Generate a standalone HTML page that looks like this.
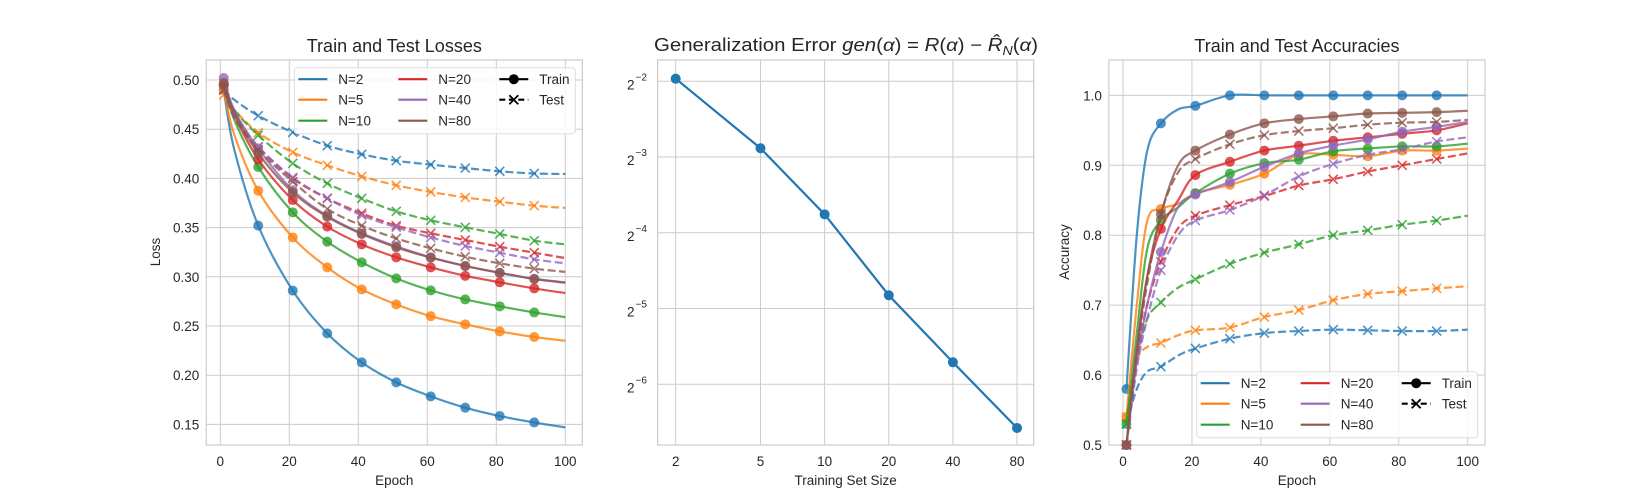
<!DOCTYPE html>
<html><head><meta charset="utf-8">
<style>
html,body{margin:0;padding:0;background:#fff;}
svg{display:block;font-family:"Liberation Sans","DejaVu Sans",sans-serif;}
</style></head>
<body>
<svg id="fig" xmlns="http://www.w3.org/2000/svg" width="1650" height="500" viewBox="0 0 1650 500"></svg>
<script>
const lossEpochs=[1,4,11,21,31,41,51,61,71,81,91,100];
const lossTrainN2=[0.49,0.43,0.352,0.286,0.2425,0.213,0.1927,0.1785,0.167,0.1585,0.152,0.147];
const lossTrainN5=[0.49,0.445,0.3875,0.340,0.3096,0.2872,0.272,0.260,0.2517,0.2445,0.2388,0.235];
const lossTrainN10=[0.495,0.46,0.4116,0.3655,0.3357,0.3147,0.2984,0.2862,0.277,0.270,0.2638,0.259];
const lossTrainN20=[0.495,0.465,0.4194,0.378,0.351,0.333,0.3198,0.3096,0.301,0.2944,0.2882,0.2835];
const lossTrainN40=[0.502,0.47,0.4305,0.388,0.362,0.3442,0.331,0.3198,0.311,0.304,0.298,0.2943];
const lossTrainN80=[0.497,0.468,0.4255,0.3858,0.361,0.3435,0.330,0.3195,0.311,0.304,0.2977,0.294];
const lossTestN2=[0.49,0.48,0.4637,0.4468,0.4333,0.4245,0.418,0.414,0.4105,0.4072,0.405,0.4045];
const lossTestN5=[0.485,0.47,0.4465,0.4265,0.4133,0.402,0.393,0.3862,0.3807,0.3763,0.3723,0.370];
const lossTestN10=[0.49,0.47,0.4438,0.4153,0.395,0.3797,0.3665,0.3574,0.3503,0.3435,0.3367,0.333];
const lossTestN20=[0.49,0.465,0.432,0.40,0.3797,0.3645,0.352,0.3442,0.3374,0.3306,0.3245,0.319];
const lossTestN40=[0.49,0.465,0.4322,0.401,0.3797,0.3624,0.3503,0.340,0.3313,0.3245,0.3177,0.3137];
const lossTestN80=[0.49,0.462,0.429,0.3967,0.369,0.352,0.339,0.329,0.3204,0.3137,0.3083,0.305];

const genSizes=[2,5,10,20,40,80];
const genError=[0.2561,0.1355,0.0740,0.0353,0.01911,0.01048];

const accEpochs=[1,4,7,11,16,21,31,41,51,61,71,81,91,100];
const accTrainN2=[0.58,0.80,0.92,0.96,0.98,0.985,1,1,1,1,1,1,1,1];
const accTrainN5=[0.54,0.70,0.82,0.8375,0.845,0.86,0.872,0.888,0.915,0.915,0.913,0.921,0.921,0.924];
const accTrainN10=[0.53,0.66,0.78,0.821,0.84,0.86,0.888,0.903,0.908,0.92,0.924,0.927,0.927,0.931];
const accTrainN20=[0.50,0.63,0.74,0.809,0.85,0.886,0.905,0.921,0.928,0.935,0.94,0.945,0.95,0.96];
const accTrainN40=[0.50,0.62,0.70,0.776,0.84,0.858,0.876,0.898,0.917,0.928,0.937,0.948,0.955,0.962];
const accTrainN80=[0.50,0.64,0.74,0.83,0.90,0.921,0.944,0.96,0.966,0.97,0.974,0.975,0.976,0.978];
const accTestN2=[0.53,0.58,0.605,0.612,0.628,0.638,0.652,0.66,0.663,0.665,0.664,0.663,0.663,0.665];
const accTestN5=[0.54,0.62,0.64,0.646,0.657,0.664,0.668,0.683,0.693,0.707,0.716,0.72,0.724,0.727];
const accTestN10=[0.53,0.62,0.68,0.704,0.725,0.737,0.759,0.775,0.787,0.80,0.807,0.815,0.821,0.828];
const accTestN20=[0.50,0.62,0.70,0.762,0.81,0.828,0.843,0.856,0.871,0.88,0.891,0.90,0.909,0.917];
const accTestN40=[0.50,0.61,0.68,0.75,0.80,0.821,0.836,0.857,0.884,0.902,0.915,0.923,0.934,0.94];
const accTestN80=[0.50,0.63,0.73,0.83,0.89,0.909,0.93,0.943,0.949,0.953,0.958,0.961,0.962,0.965];

const seriesLabels=["N=2","N=5","N=10","N=20","N=40","N=80"];
const lossTicks=[0.15,0.20,0.25,0.30,0.35,0.40,0.45,0.50];
const accTicks=[0.5,0.6,0.7,0.8,0.9,1.0];
const epochTicks=[0,20,40,60,80,100];
const genYTicks=[-2,-3,-4,-5,-6];

const colors=["#1f77b4","#ff7f0e","#2ca02c","#d62728","#9467bd","#8c564b"];
const NS="http://www.w3.org/2000/svg";
const svg=document.getElementById('fig');
function el(tag,attrs,parent){const e=document.createElementNS(NS,tag);for(const k in attrs)e.setAttribute(k,attrs[k]);(parent||svg).appendChild(e);return e;}
function smoothPath(pts){
  let d="M"+pts[0][0].toFixed(2)+","+pts[0][1].toFixed(2);
  for(let i=0;i<pts.length-1;i++){
    const p0=pts[Math.max(0,i-1)],p1=pts[i],p2=pts[i+1],p3=pts[Math.min(pts.length-1,i+2)];
    const c1=[p1[0]+(p2[0]-p0[0])/6,p1[1]+(p2[1]-p0[1])/6];
    const c2=[p2[0]-(p3[0]-p1[0])/6,p2[1]-(p3[1]-p1[1])/6];
    d+=" C"+c1[0].toFixed(2)+","+c1[1].toFixed(2)+" "+c2[0].toFixed(2)+","+c2[1].toFixed(2)+" "+p2[0].toFixed(2)+","+p2[1].toFixed(2);
  }
  return d;
}
const TOP=60,BOT=445;
function makeAxes(id,x0,x1){
  const g=el('g',{});
  
  
  const cp=el('clipPath',{id:'clip-'+id},g);
  el('rect',{x:x0,y:TOP,width:x1-x0,height:BOT-TOP},cp);
  return g;
}
function frame(g,x0,x1){
  const r=el('rect',{x:x0,y:TOP,width:x1-x0,height:BOT-TOP,fill:'none',stroke:'#cccccc','stroke-width':1.2},g);
  
  
}
function text(g,x,y,s,attrs,name){
  const t=el('text',Object.assign({x:x,y:y,fill:'#262626','font-size':13.5},attrs||{}),g);
  t.textContent=s;
  
  
  return t;
}
function drawSeries(g,clipId,xs,ys,fx,fy,color,dashed,name){
  const pts=xs.map((x,i)=>[fx(x),fy(ys[i])]);
  const p=el('path',{d:smoothPath(pts),fill:'none',stroke:color,'stroke-width':2.2,'stroke-opacity':0.8,'clip-path':'url(#'+clipId+')'},g);
  if(dashed)p.setAttribute('stroke-dasharray','8,3.5');
  
  
  xs.forEach((x,i)=>{
    if(x%10!==1)return;
    const cx=fx(x),cy=fy(ys[i]);
    if(!dashed){
      const c=el('circle',{cx:cx,cy:cy,r:5,fill:color,'fill-opacity':0.8},g);
      
      
    }else{
      const m=el('path',{d:`M${cx-4.5},${cy-4.5}L${cx+4.5},${cy+4.5}M${cx-4.5},${cy+4.5}L${cx+4.5},${cy-4.5}`,stroke:color,'stroke-width':1.6,'stroke-opacity':0.8},g);
      
      
    }
  });
}
function legend(g,bx,by,name){
  const lg=el('g',{},g);
  
  
  el('rect',{x:bx,y:by,width:281,height:66,rx:3,fill:'#fff','fill-opacity':0.8,stroke:'#dddddd','stroke-width':1},lg);
  const rows=[by+11.5,by+32,by+53];
  seriesLabels.forEach((lab,i)=>{
    const col=Math.floor(i/3),row=i%3;
    const lx=bx+4+col*100;
    const e=el('g',{},lg);
    
    
    el('line',{x1:lx,y1:rows[row],x2:lx+29,y2:rows[row],stroke:colors[i],'stroke-width':2.2},e);
    const t=el('text',{x:lx+40,y:rows[row]+5,fill:'#262626','font-size':13.5},e);t.textContent=lab;
  });
  const lx=bx+205;
  const e1=el('g',{},lg);
  
  
  el('line',{x1:lx,y1:rows[0],x2:lx+29,y2:rows[0],stroke:'#000','stroke-width':2.2},e1);
  el('circle',{cx:lx+14.5,cy:rows[0],r:5,fill:'#000'},e1);
  const t1=el('text',{x:lx+40,y:rows[0]+5,fill:'#262626','font-size':13.5},e1);t1.textContent='Train';
  const e2=el('g',{},lg);
  
  
  el('line',{x1:lx,y1:rows[1],x2:lx+29,y2:rows[1],stroke:'#000','stroke-width':2.2,'stroke-dasharray':'6,3.5'},e2);
  const cx=lx+14.5,cy=rows[1];
  el('path',{d:`M${cx-4.5},${cy-4.5}L${cx+4.5},${cy+4.5}M${cx-4.5},${cy+4.5}L${cx+4.5},${cy-4.5}`,stroke:'#000','stroke-width':1.8},e2);
  const t2=el('text',{x:lx+40,y:rows[1]+5,fill:'#262626','font-size':13.5},e2);t2.textContent='Test';
}

/* ---------- Axes 1: losses ---------- */
(function(){
  const x0=206.25,x1=582.35;
  const g=makeAxes('loss-chart',x0,x1);
  const fx=v=>220.3+(v-0)*3.45;
  const fy=v=>80-(v-0.5)/0.05*49.2;
  epochTicks.forEach(t=>{
    el('line',{x1:fx(t),y1:TOP,x2:fx(t),y2:BOT,stroke:'#cccccc','stroke-width':1},g);
    text(g,fx(t),466,String(t),{'text-anchor':'middle'},'x-tick-label');
  });
  lossTicks.forEach(t=>{
    el('line',{x1:x0,y1:fy(t),x2:x1,y2:fy(t),stroke:'#cccccc','stroke-width':1},g);
    text(g,x0-7,fy(t)+5,t.toFixed(2),{'text-anchor':'end'},'y-tick-label');
  });
  frame(g,x0,x1);
  const trains=[lossTrainN2,lossTrainN5,lossTrainN10,lossTrainN20,lossTrainN40,lossTrainN80];
  const tests=[lossTestN2,lossTestN5,lossTestN10,lossTestN20,lossTestN40,lossTestN80];
  for(let i=0;i<6;i++){
    drawSeries(g,'clip-loss-chart',lossEpochs,trains[i],fx,fy,colors[i],false,'loss-train-n'+seriesLabels[i].slice(2));
    drawSeries(g,'clip-loss-chart',lossEpochs,tests[i],fx,fy,colors[i],true,'loss-test-n'+seriesLabels[i].slice(2));
  }
  legend(g,294.3,67.7,'loss-legend');
  text(g,(x0+x1)/2,52,'Train and Test Losses',{'text-anchor':'middle','font-size':18},'loss-title');
  text(g,(x0+x1)/2,485,'Epoch',{'text-anchor':'middle'},'x-axis-title');
  text(g,0,0,'Loss',{'text-anchor':'middle',transform:'translate(160,252) rotate(-90)'},'y-axis-title');
})();

/* ---------- Axes 2: generalization error ---------- */
(function(){
  const x0=657.6,x1=1033.7;
  const g=makeAxes('gen-chart',x0,x1);
  const fx=v=>675.7+Math.log(v/2)*92.53;
  const fy=v=>81.3-(Math.log2(v)+2)*75.75;
  genSizes.forEach(t=>{
    el('line',{x1:fx(t),y1:TOP,x2:fx(t),y2:BOT,stroke:'#cccccc','stroke-width':1},g);
    text(g,fx(t),466,String(t),{'text-anchor':'middle'},'x-tick-label');
  });
  genYTicks.forEach(p=>{
    const y=fy(Math.pow(2,p));
    el('line',{x1:x0,y1:y,x2:x1,y2:y,stroke:'#cccccc','stroke-width':1},g);
    const t=text(g,627,y+8,'2',{},'y-tick-label');
    const s=el('tspan',{dx:1,dy:-9,'font-size':10},t);s.textContent='\u2212'+(-p);
  });
  frame(g,x0,x1);
  const pts=genSizes.map((s,i)=>[fx(s),fy(genError[i])]);
  const p=el('path',{d:'M'+pts.map(q=>q[0].toFixed(2)+','+q[1].toFixed(2)).join(' L'),fill:'none',stroke:colors[0],'stroke-width':2.2},g);
  
  
  pts.forEach(q=>{
    const c=el('circle',{cx:q[0],cy:q[1],r:5,fill:colors[0]},g);
    
    
  });
  const t=text(g,654,51,'Generalization Error ',{'font-size':18,textLength:384,lengthAdjust:'spacingAndGlyphs'},'gen-title');
  const parts=[['gen','italic'],['(',''],['\u03b1','italic'],[') = ',''],['R','italic'],['(',''],['\u03b1','italic'],[') \u2212 ',''],['R\u0302','italic']];
  parts.forEach(pp=>{const s=el('tspan',pp[1]?{'font-style':'italic'}:{},t);s.textContent=pp[0];});
  const sub=el('tspan',{'font-style':'italic','font-size':12.5,dy:4},t);sub.textContent='N';
  const rest=el('tspan',{dy:-4},t);rest.textContent='(';
  const a=el('tspan',{'font-style':'italic'},t);a.textContent='\u03b1';
  const c2=el('tspan',{},t);c2.textContent=')';
  text(g,(x0+x1)/2,485,'Training Set Size',{'text-anchor':'middle'},'x-axis-title');
})();

/* ---------- Axes 3: accuracies ---------- */
(function(){
  const x0=1108.9,x1=1485;
  const g=makeAxes('acc-chart',x0,x1);
  const fx=v=>1123+v*3.447;
  const fy=v=>445-(v-0.5)/0.1*69.93;
  epochTicks.forEach(t=>{
    el('line',{x1:fx(t),y1:TOP,x2:fx(t),y2:BOT,stroke:'#cccccc','stroke-width':1},g);
    text(g,fx(t),466,String(t),{'text-anchor':'middle'},'x-tick-label');
  });
  accTicks.forEach(t=>{
    el('line',{x1:x0,y1:fy(t),x2:x1,y2:fy(t),stroke:'#cccccc','stroke-width':1},g);
    text(g,x0-7,fy(t)+5,t.toFixed(1),{'text-anchor':'end'},'y-tick-label');
  });
  frame(g,x0,x1);
  const trains=[accTrainN2,accTrainN5,accTrainN10,accTrainN20,accTrainN40,accTrainN80];
  const tests=[accTestN2,accTestN5,accTestN10,accTestN20,accTestN40,accTestN80];
  for(let i=0;i<6;i++){
    drawSeries(g,'clip-acc-chart',accEpochs,trains[i],fx,fy,colors[i],false,'acc-train-n'+seriesLabels[i].slice(2));
    drawSeries(g,'clip-acc-chart',accEpochs,tests[i],fx,fy,colors[i],true,'acc-test-n'+seriesLabels[i].slice(2));
  }
  legend(g,1196.7,371.7,'acc-legend');
  text(g,(x0+x1)/2,52,'Train and Test Accuracies',{'text-anchor':'middle','font-size':18},'acc-title');
  text(g,(x0+x1)/2,485,'Epoch',{'text-anchor':'middle'},'x-axis-title');
  text(g,0,0,'Accuracy',{'text-anchor':'middle',transform:'translate(1069,252) rotate(-90)'},'y-axis-title');
})();
</script>
</body></html>
